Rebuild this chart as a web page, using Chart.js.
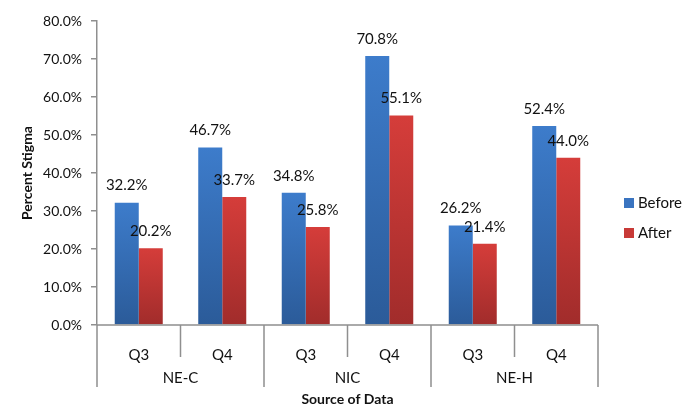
<!DOCTYPE html>
<html>
<head>
<meta charset="utf-8">
<script src="https://cdn.jsdelivr.net/npm/chart.js@4.4.1/dist/chart.umd.min.js"></script>
<style>
  html, body { margin: 0; padding: 0; background: #fff; }
  #wrap { width: 696px; height: 408px; }
</style>
</head>
<body>
<div id="wrap"><canvas id="chart" width="696" height="408"></canvas></div>
<script>
  // 데이터
  const quarters = ['Q3', 'Q4', 'Q3', 'Q4', 'Q3', 'Q4'];
  const groups = ['NE-C', 'NIC', 'NE-H'];
  const beforeVals = [32.2, 46.7, 34.8, 70.8, 26.2, 52.4];
  const afterVals = [20.2, 33.7, 25.8, 55.1, 21.4, 44.0];
  const seriesNames = ['Before', 'After'];
  const yMax = 80;
  const yStep = 10;

  const FONT = 'Lato, "Open Sans", sans-serif';
  const AXIS = '#8f8f8f';

  // 막대 그라데이션
  function barFill(top, bottom) {
    return function (c) {
      const chart = c.chart;
      const area = chart.chartArea;
      if (!area) return top;
      const y0 = chart.scales.y.getPixelForValue(c.raw);
      const g = chart.ctx.createLinearGradient(0, y0, 0, area.bottom);
      g.addColorStop(0, top);
      g.addColorStop(1, bottom);
      return g;
    };
  }

  // 값 라벨
  const valueLabels = {
    id: 'valueLabels',
    afterDatasetsDraw(chart) {
      const ctx = chart.ctx;
      ctx.save();
      ctx.font = '15px ' + FONT;
      ctx.fillStyle = '#111';
      ctx.textAlign = 'center';
      ctx.textBaseline = 'middle';
      chart.data.datasets.forEach((ds, i) => {
        chart.getDatasetMeta(i).data.forEach((bar, j) => {
          ctx.fillText(ds.data[j].toFixed(1) + '%', bar.x, bar.y - 17);
        });
      });
      ctx.restore();
    }
  };

  // 2단 x축 + 범례
  const groupAxis = {
    id: 'groupAxis',
    afterDraw(chart) {
      const ctx = chart.ctx;
      const x = chart.scales.x;
      const base = chart.chartArea.bottom;
      const n = quarters.length;
      ctx.save();
      ctx.strokeStyle = AXIS;
      ctx.lineWidth = 1.5;
      ctx.beginPath();
      ctx.moveTo(x.left, base);
      ctx.lineTo(x.right, base);
      for (let i = 0; i <= n; i++) {
        let px;
        if (i === 0) px = x.left;
        else if (i === n) px = x.right;
        else px = (x.getPixelForValue(i - 1) + x.getPixelForValue(i)) / 2;
        const len = i % 2 === 0 ? 62 : 32;
        ctx.moveTo(px, base);
        ctx.lineTo(px, base + len);
      }
      ctx.stroke();

      ctx.font = '15px ' + FONT;
      ctx.fillStyle = '#111';
      ctx.textAlign = 'center';
      ctx.textBaseline = 'middle';
      groups.forEach((g, k) => {
        const cx = (x.getPixelForValue(2 * k) + x.getPixelForValue(2 * k + 1)) / 2;
        ctx.fillText(g, cx, base + 53);
      });

      // 범례
      ctx.textAlign = 'left';
      chart.data.datasets.forEach((ds, i) => {
        const ly = 203 + i * 30;
        ctx.fillStyle = ds.legendColor;
        ctx.fillRect(624, ly - 5, 10, 10);
        ctx.fillStyle = '#111';
        ctx.fillText(ds.label, 638, ly);
      });
      ctx.restore();
    }
  };

  const ctx = document.getElementById('chart').getContext('2d');
  new Chart(ctx, {
    type: 'bar',
    data: {
      labels: quarters,
      datasets: [
        {
          label: seriesNames[0],
          data: beforeVals,
          backgroundColor: barFill('#3d7ccb', '#2b5b99'),
          legendColor: '#3a74c0'
        },
        {
          label: seriesNames[1],
          data: afterVals,
          backgroundColor: barFill('#d53d3a', '#a12c2b'),
          legendColor: '#c83a37'
        }
      ]
    },
    options: {
      responsive: false,
      animation: false,
      layout: { padding: { top: 21, right: 98, left: 0, bottom: 0 } },
      datasets: {
        bar: { categoryPercentage: 0.575, barPercentage: 1.0 }
      },
      plugins: {
        legend: { display: false },
        tooltip: { enabled: false }
      },
      scales: {
        x: {
          grid: { display: false },
          border: { display: false },
          ticks: { color: '#111', font: { family: FONT, size: 15 }, padding: 13 },
          title: {
            display: true,
            text: 'Source of Data',
            color: '#111',
            font: { family: FONT, size: 14, weight: 'bold' },
            padding: { top: 0, bottom: 0 }
          },
          afterFit(scale) { scale.height = 83; }
        },
        y: {
          min: 0,
          max: yMax,
          ticks: {
            stepSize: yStep,
            color: '#111',
            font: { family: FONT, size: 14 },
            padding: 9,
            callback: v => v.toFixed(1) + '%'
          },
          grid: { drawOnChartArea: false, tickLength: 6, color: AXIS, lineWidth: 1.5 },
          border: { color: AXIS, width: 1.5 },
          title: {
            display: true,
            text: 'Percent Stigma',
            color: '#111',
            font: { family: FONT, size: 14, weight: 'bold' },
            padding: { top: 19, bottom: 0 }
          },
          afterFit(scale) { scale.width = 97; }
        }
      }
    },
    plugins: [valueLabels, groupAxis]
  });
</script>
</body>
</html>
